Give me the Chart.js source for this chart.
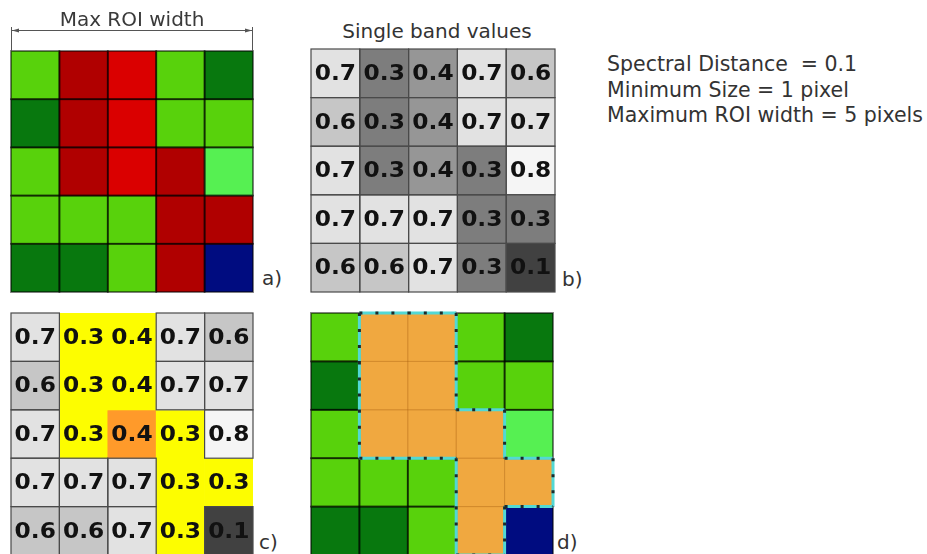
<!DOCTYPE html>
<html>
<head>
<meta charset="utf-8">
<script src="https://cdn.jsdelivr.net/npm/chart.js@4"></script>
<style>
  html, body { margin:0; padding:0; background:#fff; width:927px; height:554px; overflow:hidden; }
  body { position:relative; font-family:"DejaVu Sans", sans-serif; color:#333; }
  canvas { position:absolute; }
  .lbl { position:absolute; font-size:20px; line-height:25px; white-space:nowrap; color:#333; }
</style>
</head>
<body>
<canvas id="gridA" width="248" height="295" style="left:8px;top:0px"></canvas>
<canvas id="gridB" width="250" height="249" style="left:308px;top:46px"></canvas>
<canvas id="gridC" width="248" height="248" style="left:8px;top:310px"></canvas>
<canvas id="gridD" width="248" height="248" style="left:308px;top:310px"></canvas>

<div class="lbl" style="left:337px;top:19px;width:200px;text-align:center">Single band values</div>
<div class="lbl" style="left:607px;top:52px;font-size:20.5px;line-height:25.5px">Spectral Distance&nbsp; = 0.1<br>Minimum Size = 1 pixel<br>Maximum ROI width = 5 pixels</div>
<div class="lbl" style="left:262px;top:266px">a)</div>
<div class="lbl" style="left:562px;top:267px">b)</div>
<div class="lbl" style="left:259px;top:530px">c)</div>
<div class="lbl" style="left:557px;top:530px">d)</div>

<script>
// grid columns (pixels of the 5x5 window)
const columns = ['1', '2', '3', '4', '5'];

// a) land cover classes per pixel, top row first
const landCover = [
  ['lg', 'dr', 'rd', 'lg', 'dg'],
  ['dg', 'dr', 'rd', 'lg', 'lg'],
  ['lg', 'dr', 'rd', 'dr', 'bg'],
  ['lg', 'lg', 'lg', 'dr', 'dr'],
  ['dg', 'dg', 'lg', 'dr', 'bl']
];

// b) single band values
const bandValues = [
  [0.7, 0.3, 0.4, 0.7, 0.6],
  [0.6, 0.3, 0.4, 0.7, 0.7],
  [0.7, 0.3, 0.4, 0.3, 0.8],
  [0.7, 0.7, 0.7, 0.3, 0.3],
  [0.6, 0.6, 0.7, 0.3, 0.1]
];

// c/d) pixels grown into the ROI, and the seed pixel
const roiMask = [
  [0, 1, 1, 0, 0],
  [0, 1, 1, 0, 0],
  [0, 1, 1, 1, 0],
  [0, 0, 0, 1, 1],
  [0, 0, 0, 1, 0]
];
const seedCell = [2, 2];

const classColors = { lg:'#58d20c', dg:'#08780e', dr:'#b00000', rd:'#da0000', bg:'#56f052', bl:'#000c80' };
const grayColors = { '0.1':'#414141', '0.3':'#7d7d7d', '0.4':'#969696', '0.6':'#c6c6c6', '0.7':'#e2e2e2', '0.8':'#f5f5f5' };
const gray = v => grayColors[v.toFixed(1)];
const inRoi = (r, c) => r >= 0 && r < 5 && c >= 0 && c < 5 && roiMask[r][c] === 1;

// cell rectangle in pixels, from the chart scales
function cellRect(chart, r, c) {
  const { x, y } = chart.scales;
  const half = (x.getPixelForValue(1) - x.getPixelForValue(0)) / 2;
  return { x0: x.getPixelForValue(c) - half, x1: x.getPixelForValue(c) + half,
           y0: y.getPixelForValue(r), y1: y.getPixelForValue(r + 1) };
}

// outline every cell that asks for it
function cellBorders(style) {
  return {
    id: 'cellBorders',
    afterDatasetsDraw(chart) {
      const ctx = chart.ctx;
      ctx.save();
      roiMask.forEach((row, r) => row.forEach((_, c) => {
        const s = style(r, c);
        if (!s) return;
        const b = cellRect(chart, r, c);
        ctx.strokeStyle = s[0];
        ctx.lineWidth = s[1];
        ctx.strokeRect(b.x0, b.y0, b.x1 - b.x0, b.y1 - b.y0);
      }));
      ctx.restore();
    }
  };
}

// write band values in the middle of each cell
const cellText = {
  id: 'cellText',
  afterDatasetsDraw(chart) {
    const ctx = chart.ctx;
    ctx.save();
    ctx.font = 'bold 22px "DejaVu Sans"';
    ctx.fillStyle = '#111';
    ctx.textAlign = 'center';
    ctx.textBaseline = 'middle';
    chart.data.datasets.forEach((ds, r) => {
      chart.getDatasetMeta(r).data.forEach((bar, c) => {
        const p = bar.getCenterPoint();
        ctx.save();
        ctx.translate(p.x, p.y + 1);
        ctx.scale(1.06, 1);
        ctx.fillText(bandValues[r][c].toFixed(1), 0, 0);
        ctx.restore();
      });
    });
    ctx.restore();
  }
};

// "Max ROI width" dimension arrow above panel a
const widthArrow = {
  id: 'widthArrow',
  afterDraw(chart) {
    const { ctx, chartArea: a } = chart;
    const y = a.top - 21;
    ctx.save();
    ctx.strokeStyle = '#555';
    ctx.fillStyle = '#555';
    ctx.lineWidth = 1;
    ctx.beginPath();
    ctx.moveTo(a.left + 0.5, y - 3); ctx.lineTo(a.left + 0.5, a.top);
    ctx.moveTo(a.right - 0.5, y - 3); ctx.lineTo(a.right - 0.5, a.top);
    ctx.moveTo(a.left, y + 0.5); ctx.lineTo(a.right, y + 0.5);
    ctx.stroke();
    ctx.beginPath();
    ctx.moveTo(a.left + 1, y + 0.5); ctx.lineTo(a.left + 8, y - 1.5); ctx.lineTo(a.left + 8, y + 2.5); ctx.fill();
    ctx.beginPath();
    ctx.moveTo(a.right - 1, y + 0.5); ctx.lineTo(a.right - 8, y - 1.5); ctx.lineTo(a.right - 8, y + 2.5); ctx.fill();
    ctx.font = '20px "DejaVu Sans"';
    ctx.fillStyle = '#3a3a3a';
    ctx.textAlign = 'center';
    ctx.textBaseline = 'alphabetic';
    ctx.fillText('Max ROI width', (a.left + a.right) / 2, a.top - 25);
    ctx.restore();
  }
};

// dashed outline around the ROI in panel d
const roiOutline = {
  id: 'roiOutline',
  afterDatasetsDraw(chart) {
    const ctx = chart.ctx;
    const edges = [];
    roiMask.forEach((row, r) => row.forEach((m, c) => {
      if (!m) return;
      const b = cellRect(chart, r, c);
      if (!inRoi(r - 1, c)) edges.push([b.x0, b.y0, b.x1, b.y0]);
      if (!inRoi(r + 1, c)) edges.push([b.x0, b.y1, b.x1, b.y1]);
      if (!inRoi(r, c - 1)) edges.push([b.x0, b.y0, b.x0, b.y1]);
      if (!inRoi(r, c + 1)) edges.push([b.x1, b.y0, b.x1, b.y1]);
    }));
    ctx.save();
    const stroke = (color, width, dash) => {
      ctx.strokeStyle = color; ctx.lineWidth = width; ctx.setLineDash(dash);
      ctx.beginPath();
      edges.forEach(e => { ctx.moveTo(e[0], e[1]); ctx.lineTo(e[2], e[3]); });
      ctx.stroke();
    };
    stroke('#52d8d4', 3, []);
    stroke('#1c2a2a', 3, [3, 13]);
    ctx.restore();
  }
};

function makeGrid(id, fill, padding, plugins) {
  return new Chart(document.getElementById(id), {
    type: 'bar',
    data: {
      labels: columns,
      datasets: landCover.map((row, r) => ({
        data: row.map(() => 1),
        backgroundColor: row.map((_, c) => fill(r, c)),
        borderWidth: 0,
        barPercentage: 1,
        categoryPercentage: 1
      }))
    },
    options: {
      responsive: false,
      animation: false,
      layout: { padding: padding },
      scales: {
        x: { display: false, stacked: true },
        y: { display: false, stacked: true, min: 0, max: 5, reverse: true }
      },
      plugins: { legend: { display: false }, tooltip: { enabled: false } }
    },
    plugins: plugins
  });
}

const darkLine = ['rgba(0,0,0,0.55)', 1.8];
const grayLine = ['#4a4a4a', 1.2];

// a) class map
makeGrid('gridA', (r, c) => classColors[landCover[r][c]],
  { top: 51, left: 3, right: 3, bottom: 3 }, [cellBorders(() => darkLine), widthArrow]);

// b) band values
makeGrid('gridB', (r, c) => gray(bandValues[r][c]), 3, [cellBorders(() => grayLine), cellText]);

// c) region growing on band values
makeGrid('gridC', (r, c) => {
  if (r === seedCell[0] && c === seedCell[1]) return '#ff9a2a';
  return inRoi(r, c) ? '#fdfd00' : gray(bandValues[r][c]);
}, 3, [cellBorders((r, c) => inRoi(r, c) ? null : grayLine), cellText]);

// d) resulting ROI over the class map
makeGrid('gridD', (r, c) => inRoi(r, c) ? '#f0a840' : classColors[landCover[r][c]], 3,
  [cellBorders((r, c) => inRoi(r, c) ? ['rgba(170,100,20,0.25)', 1] : darkLine), roiOutline]);
</script>
</body>
</html>
